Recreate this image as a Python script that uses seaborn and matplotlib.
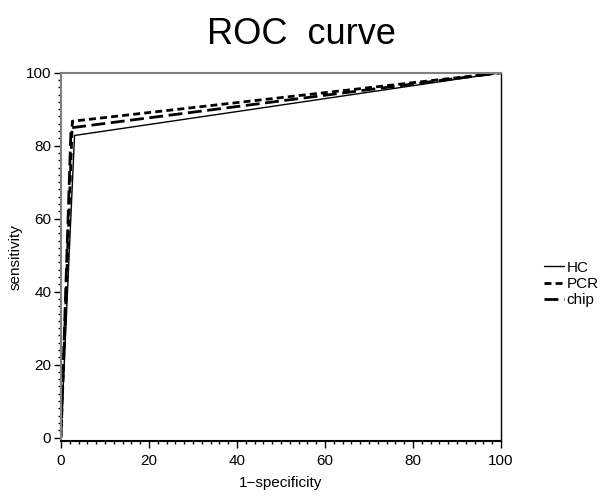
import pandas as pd
import matplotlib
matplotlib.use("Agg")
import matplotlib.pyplot as plt
import seaborn as sns
from matplotlib.ticker import MultipleLocator

# ROC points
fpr_hc = [0, 3.1, 100]
tpr_hc = [0, 82.8, 100]
fpr_pcr = [0, 2.6, 100]
tpr_pcr = [0, 86.7, 100]
fpr_chip = [0, 2.3, 100]
tpr_chip = [0, 84.9, 100]
methods = ["HC", "PCR", "chip"]

df = pd.concat([
    pd.DataFrame({"x": fpr_hc, "y": tpr_hc, "method": "HC"}),
    pd.DataFrame({"x": fpr_pcr, "y": tpr_pcr, "method": "PCR"}),
    pd.DataFrame({"x": fpr_chip, "y": tpr_chip, "method": "chip"}),
])

sns.set_style("ticks")
plt.rcParams['font.family'] = ['Liberation Sans', 'DejaVu Sans']
plt.rcParams['text.color'] = 'black'
plt.rcParams['axes.labelcolor'] = 'black'
plt.rcParams['xtick.color'] = 'black'
plt.rcParams['ytick.color'] = 'black'

fig = plt.figure(figsize=(6.03, 4.98), dpi=100)
ax = fig.add_axes([0.101, 0.114, 0.730, 0.740])

dashes = {"HC": "", "PCR": (2.5, 1.5), "chip": (5, 2)}
widths = {"HC": 1.0, "PCR": 2.0, "chip": 2.0}
for m in methods:
    sub = df[df["method"] == m]
    sns.lineplot(data=sub, x="x", y="y", ax=ax, color="black",
                 linewidth=widths[m], label=m, sort=False,
                 dashes=False, estimator=None)
    line = ax.get_lines()[-1]
    if dashes[m]:
        line.set_dashes(dashes[m])

ax.set_xlim(0, 100)
ax.set_ylim(-1, 100)
ax.xaxis.set_major_locator(MultipleLocator(20))
ax.yaxis.set_major_locator(MultipleLocator(20))
ax.xaxis.set_minor_locator(MultipleLocator(2))
ax.yaxis.set_minor_locator(MultipleLocator(2))
ax.tick_params(which="major", length=5, width=1, labelsize=11, pad=4)
ax.tick_params(which="minor", length=2.5, width=1)
ax.tick_params(axis="y", pad=2)
for side in ["top", "left"]:
    ax.spines[side].set_color("#808080")
    ax.spines[side].set_linewidth(1.5)
for side in ["bottom", "right"]:
    ax.spines[side].set_color("black")
    ax.spines[side].set_linewidth(1.0)
ax.spines["bottom"].set_linewidth(1.5)

ax.set_xlabel("1\u2212specificity", fontsize=11, labelpad=6)
ax.set_ylabel("sensitivity", fontsize=11, labelpad=2)
fig.suptitle("ROC  curve", fontsize=26, y=0.965)

ax.get_legend().remove()
handles, labels = ax.get_legend_handles_labels()
fig.legend(handles, labels, loc="center left", bbox_to_anchor=(0.88, 0.43),
           frameon=False, fontsize=11, handlelength=1.3, handletextpad=0.15,
           labelspacing=0.15)

fig.savefig("out.png", dpi=100)
